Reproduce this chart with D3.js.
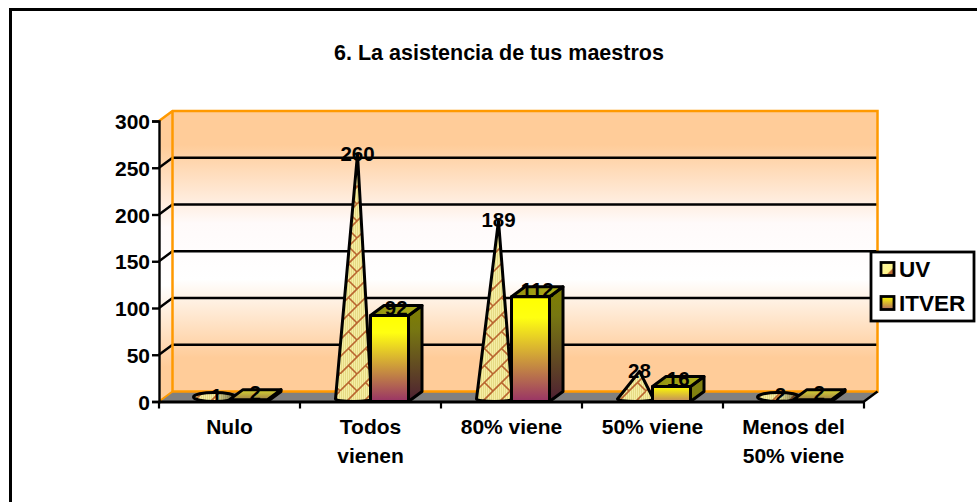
<!DOCTYPE html>
<html><head><meta charset="utf-8">
<script src="https://cdnjs.cloudflare.com/ajax/libs/d3/7.8.5/d3.min.js"></script>
<style>html,body{margin:0;padding:0;background:#fff}svg{display:block}text{font-family:"Liberation Sans",Arial,sans-serif;font-weight:bold;fill:#000}</style>
</head><body><svg id="c" width="977" height="502"></svg>
<script>
const categories = ["Nulo","Todos\nvienen","80% viene","50% viene","Menos del\n50% viene"];
const seriesNames = ["UV","ITVER"];
const uvValues = [1,260,189,28,2];
const itverValues = [2,92,112,16,2];
const yTicks = [0,50,100,150,200,250,300];
const chartTitle = "6. La asistencia de tus maestros";

const svg = d3.select("#c");
const F = {l:159,r:864,t:121,b:401.5}, dx=13.5, dy=-10;
const x = d3.scaleBand().domain(categories).range([F.l,F.r]);
const inner = d3.scaleBand().domain(seriesNames).range([0,x.bandwidth()]).paddingInner(0).paddingOuter(0.855);
const y = d3.scaleLinear().domain([0,300]).range([F.b,F.t]);

const defs = svg.append("defs");
function grad(id,x2,y2,stops){
  const g = defs.append("linearGradient").attr("id",id).attr("x1",0).attr("y1",0).attr("x2",x2).attr("y2",y2);
  stops.forEach(s=>g.append("stop").attr("offset",s[0]).attr("stop-color",s[1]));
}
grad("wall",0,1,[[0,"#ffcc99"],[0.12,"#ffcc99"],[0.4,"#fffafa"],[0.6,"#ffffff"],[0.88,"#ffcc99"],[1,"#ffcc99"]]);
grad("front",0,1,[[0,"#ffff00"],[0.2,"#ffff11"],[1,"#993366"]]);
grad("side",0,1,[[0,"#808000"],[0.25,"#777711"],[1,"#4d1f33"]]);
grad("topf",1,0,[[0,"#8f8f10"],[1,"#b4b41a"]]);
grad("topSmall",0,1,[[0,"#d8d830"],[1,"#a08048"]]);
grad("frontSmall",0,1,[[0,"#ffff00"],[1,"#c08a60"]]);
grad("swatch",0,1,[[0,"#ffff00"],[1,"#b06a60"]]);
const sh = defs.append("linearGradient").attr("id","ellShade").attr("x1",0).attr("y1",0).attr("x2",1).attr("y2",0);
[[0,0],[0.5,0],[1,0.6]].forEach(s=>sh.append("stop").attr("offset",s[0]).attr("stop-color","#000").attr("stop-opacity",s[1]));
const P = 34;
const pat = defs.append("pattern").attr("id","lattice").attr("patternUnits","userSpaceOnUse").attr("width",P).attr("height",P);
pat.append("rect").attr("width",P).attr("height",P).attr("fill","#e6da84");
d3.range(0,P,2).forEach(i=>pat.append("rect").attr("x",i).attr("width",1).attr("height",P).attr("fill","#f5eea4"));
pat.append("path").attr("d","M0 17L17 0M0 34L34 0M17 34L34 17M8.5 8.5L17 17M25.5 25.5L34 34M25.5 8.5L34 17M8.5 25.5L17 34").attr("stroke","#b9652f").attr("stroke-width",1.6).attr("fill","none");
const swPat = defs.append("linearGradient").attr("id","swUV").attr("x1",0).attr("y1",0).attr("x2",1).attr("y2",1);
[[0,"#fbf6a5"],[0.65,"#fff58a"],[0.72,"#b9652f"],[1,"#b9652f"]].forEach(s=>swPat.append("stop").attr("offset",s[0]).attr("stop-color",s[1]));

// frame
svg.append("path").attr("d","M10.5 502V9.5H977").attr("fill","none").attr("stroke","#000").attr("stroke-width",3);
svg.append("text").attr("x",499).attr("y",59.5).attr("text-anchor","middle").attr("font-size",21.5).text(chartTitle);

// walls
const pts = a=>a.map(p=>p.join(",")).join(" ");
svg.append("polygon").attr("points",pts([[F.l,F.t],[F.l+dx,F.t+dy],[F.l+dx,F.b+dy],[F.l,F.b]])).attr("fill","url(#wall)");
svg.append("rect").attr("x",F.l+dx).attr("y",F.t+dy).attr("width",F.r-F.l).attr("height",F.b-F.t).attr("fill","url(#wall)");
svg.append("polygon").attr("points",pts([[F.l,F.b],[F.l+dx,F.b+dy],[F.r+dx,F.b+dy],[F.r,F.b]])).attr("fill","#808080");
// grid
yTicks.filter(t=>t>0&&t<300).forEach(t=>{
  svg.append("polyline").attr("points",pts([[F.l,y(t)],[F.l+dx,y(t)+dy],[F.r+dx,y(t)+dy]])).attr("fill","none").attr("stroke","#000").attr("stroke-width",2.4);
});
// orange wall edges
svg.append("path").attr("d",`M${F.l} ${F.t}L${F.l+dx} ${F.t+dy}H${F.r+dx}V${F.b+dy}H${F.l+dx}V${F.t+dy}`).attr("fill","none").attr("stroke","#ff9900").attr("stroke-width",2.5);
svg.append("path").attr("d",`M${F.l} ${F.b}L${F.l+dx} ${F.b+dy}`).attr("stroke","#ff9900").attr("stroke-width",2);

// axes
const yAxis = d3.axisLeft(y).tickValues(yTicks).tickSize(7).tickPadding(2);
const ga = svg.append("g").attr("transform",`translate(${F.l},0)`).call(yAxis);
ga.selectAll("path,line").attr("stroke","#000").attr("stroke-width",2.4);
ga.selectAll("text").attr("font-size",21).attr("dy","0.36em").attr("font-family",null);
const xAxis = d3.axisBottom(x).tickValues([]).tickSize(0);
const gx = svg.append("g").attr("transform",`translate(0,${F.b})`).call(xAxis);
gx.select("path").attr("stroke","#000").attr("stroke-width",2.8);
svg.append("path").attr("d",`M${F.r} ${F.b}L${F.r+dx} ${F.b+dy}`).attr("stroke","#000").attr("stroke-width",2.4);
svg.selectAll(".xt").data(d3.range(categories.length+1)).join("line").attr("class","xt")
 .attr("x1",i=>F.l+i*x.step()).attr("x2",i=>F.l+i*x.step()).attr("y1",F.b).attr("y2",F.b+7).attr("stroke","#000").attr("stroke-width",2.2);
categories.forEach(c=>{
  const cx = x(c)+x.bandwidth()/2;
  c.split("\n").forEach((ln,i)=>svg.append("text").attr("x",cx).attr("y",433.5+i*29).attr("text-anchor","middle").attr("font-size",21).text(ln));
});

// marks
const labels = [];
categories.forEach((c,i)=>{
  const v = uvValues[i], bx = x(c)+inner("UV");
  const cx = bx+inner.bandwidth()/2+2, tipx = cx+4, tipy = y(v)-4;
  const g = svg.append("g").attr("stroke","#000").attr("stroke-width",3).attr("stroke-linejoin","round");
  if (v < 5) {
    const e = {cx:cx+2,cy:F.b-4.5,rx:21,ry:4.5};
    g.append("ellipse").attr("cx",e.cx).attr("cy",e.cy).attr("rx",e.rx).attr("ry",e.ry).attr("fill","url(#lattice)");
    g.append("ellipse").attr("cx",e.cx).attr("cy",e.cy).attr("rx",e.rx).attr("ry",e.ry).attr("fill","url(#ellShade)").attr("stroke","none");
  } else {
    const rx=18, ry=2.5, cy=F.b-2.5;
    g.append("path").attr("d",`M${cx-rx} ${cy}L${tipx} ${tipy}L${cx+rx} ${cy}A${rx} ${ry} 0 0 1 ${cx-rx} ${cy}Z`).attr("fill","url(#lattice)");
  }
  labels.push({t:v,x:tipx,y:tipy-1});

  const w = itverValues[i], l = x(c)+inner("ITVER"), r = l+inner.bandwidth(), top=y(w);
  const small = w < 5, mid = w < 30;
  const h = svg.append("g").attr("stroke","#000").attr("stroke-width",3).attr("stroke-linejoin","round");
  h.append("polygon").attr("points",pts([[r,top],[r+dx,top+dy],[r+dx,F.b+dy],[r,F.b]])).attr("fill",mid?"#808010":"url(#side)");
  h.append("polygon").attr("points",pts([[l,top],[l+dx,top+dy],[r+dx,top+dy],[r,top]])).attr("fill",small?"url(#topSmall)":"url(#topf)");
  if (!small) h.append("rect").attr("x",l).attr("y",top).attr("width",r-l).attr("height",F.b-top).attr("fill",mid?"url(#frontSmall)":"url(#front)");
  labels.push({t:w,x:(l+r)/2+dx/2,y:top+dy/2-2.5});
});
svg.selectAll(".dl").data(labels).join("text").attr("class","dl").attr("x",d=>d.x).attr("y",d=>d.y).attr("dy","0.36em")
  .attr("text-anchor","middle").attr("font-size",20.5).text(d=>d.t);

// legend
const lg = svg.append("g");
lg.append("rect").attr("x",871).attr("y",252).attr("width",103).attr("height",69).attr("fill","#fff").attr("stroke","#000").attr("stroke-width",2.8);
seriesNames.forEach((s,i)=>{
  const yy = 269+i*34;
  lg.append("rect").attr("x",881).attr("y",yy-6.5).attr("width",13).attr("height",13).attr("fill",i?"url(#swatch)":"url(#swUV)").attr("stroke","#000").attr("stroke-width",2.8);
  lg.append("text").attr("x",899).attr("y",yy).attr("dy","0.36em").attr("font-size",22.5).text(s);
});
</script></body></html>
